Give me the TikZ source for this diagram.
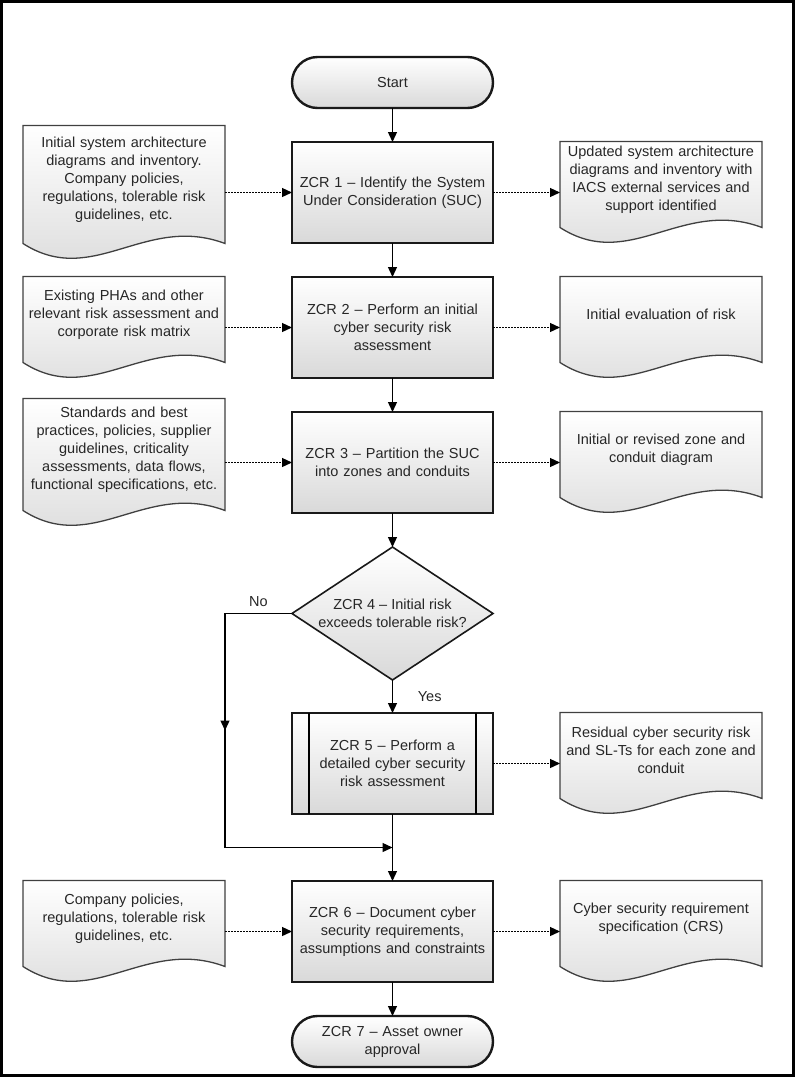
\documentclass[tikz,border=0pt]{standalone}
\usepackage{fontspec}
\setmainfont{Liberation Sans}
\usetikzlibrary{positioning,shapes.geometric,arrows.meta,backgrounds,calc}

\begin{document}
\begin{tikzpicture}
[
x=1pt, y=1pt,
node distance=34pt and 67pt,
>={Triangle[length=10pt,width=9pt]},
every node/.style={font=\fontsize{14.5}{18}\selectfont, text=black!85, outer sep=0pt},
fadefill/.style={top color=white, bottom color=black!15},
stepbox/.style={rectangle, draw=black!90, line width=2.4pt, fadefill, minimum width=201pt, minimum height=101pt, inner sep=3pt, text width=194pt, align=center},
endbox/.style={stepbox, rounded corners=25.5pt, minimum height=51pt},
decision/.style={diamond, draw=black!90, line width=1.6pt, fadefill, minimum width=201pt, minimum height=133pt, aspect=1.5, inner sep=0pt, align=center},
doc/.style={rectangle, minimum width=202pt, minimum height=86pt, inner sep=3pt, text width=196pt, align=center, yshift=8pt, execute at end node={\vspace{10pt}}},
docline/.style={line width=1.3pt, draw=black!75, fadefill},
flow/.style={->, line width=1.3pt},
info/.style={->, line width=1.3pt, dash pattern=on 1.5pt off 1.5pt}
]

\useasboundingbox (0,0) rectangle (795,-1077);
\draw[line width=3pt] (1.5,-1.5) rectangle (793.5,-1075.5);

\node[endbox] (start) at (392.5,-82.5) {Start};
\node[stepbox, below=of start] (zcr1) {ZCR 1 – Identify the System\\Under Consideration (SUC)};
\node[stepbox, below=of zcr1] (zcr2) {ZCR 2 – Perform an initial\\cyber security risk\\assessment};
\node[stepbox, below=of zcr2] (zcr3) {ZCR 3 – Partition the SUC\\into zones and conduits};
\node[decision, below=of zcr3] (zcr4) {ZCR 4 – Initial risk\\exceeds tolerable risk?};
\node[stepbox, below=33pt of zcr4] (zcr5) {ZCR 5 – Perform a\\detailed cyber security\\risk assessment};
\node[stepbox, below=67pt of zcr5] (zcr6) {ZCR 6 – Document cyber\\security requirements,\\assumptions and constraints};
\node[endbox, below=of zcr6] (zcr7) {ZCR 7 – Asset owner\\approval};

\draw[line width=1.8pt] ([xshift=17pt]zcr5.north west) -- ([xshift=17pt]zcr5.south west);
\draw[line width=1.8pt] ([xshift=-17pt]zcr5.north east) -- ([xshift=-17pt]zcr5.south east);

\node[doc, left=of zcr1, minimum height=118pt] (in1) {Initial system architecture\\diagrams and inventory.\\Company policies,\\regulations, tolerable risk\\guidelines, etc.};
\node[doc, right=of zcr1] (out1) {Updated system architecture\\diagrams and inventory with\\IACS external services and\\support identified};
\node[doc, left=of zcr2] (in2) {Existing PHAs and other\\relevant risk assessment and\\corporate risk matrix};
\node[doc, right=of zcr2] (out2) {Initial evaluation of risk};
\node[doc, left=of zcr3, minimum height=112pt] (in3) {Standards and best\\practices, policies, supplier\\guidelines, criticality\\assessments, data flows,\\functional specifications, etc.};
\node[doc, right=of zcr3] (out3) {Initial or revised zone and\\conduit diagram};
\node[doc, right=of zcr5] (out5) {Residual cyber security risk\\and SL-Ts for each zone and\\conduit};
\node[doc, left=of zcr6] (in6) {Company policies,\\regulations, tolerable risk\\guidelines, etc.};
\node[doc, right=of zcr6] (out6) {Cyber security requirement\\specification (CRS)};

\begin{scope}[on background layer]
\foreach \d in {in1,out1,in2,out2,in3,out3,out5,in6,out6}
  \draw[docline] (\d.south west) -- (\d.north west) -- (\d.north east) -- (\d.south east)
    .. controls +(-80,30) and +(70,-45) .. (\d.south west) -- cycle;
\end{scope}

\draw[flow] (start) -- (zcr1);
\draw[flow] (zcr1) -- (zcr2);
\draw[flow] (zcr2) -- (zcr3);
\draw[flow] (zcr3) -- (zcr4);
\draw[flow] (zcr4) -- node[right=22pt] (yes) {Yes} (zcr5);
\draw[flow] (zcr5) -- (zcr6);
\draw[flow] (zcr6) -- (zcr7);

\coordinate (nobend) at ([xshift=-67pt]zcr4.west);
\coordinate (merge) at ($(zcr5.south)!0.5!(zcr6.north)$);
\coordinate (nomid) at ($(nobend)!0.5!(nobend |- merge)$);
\draw[flow] (zcr4.west) -- node[above=4pt] (no) {No} (nobend) |- (merge);
\draw[flow] (nobend) -- (nomid);

\draw[info] (zcr1.west -| in1.east) -- (zcr1.west);
\draw[info] (zcr1.east) -- (zcr1.east -| out1.west);
\draw[info] (zcr2.west -| in2.east) -- (zcr2.west);
\draw[info] (zcr2.east) -- (zcr2.east -| out2.west);
\draw[info] (zcr3.west -| in3.east) -- (zcr3.west);
\draw[info] (zcr3.east) -- (zcr3.east -| out3.west);
\draw[info] (zcr5.east) -- (zcr5.east -| out5.west);
\draw[info] (zcr6.west -| in6.east) -- (zcr6.west);
\draw[info] (zcr6.east) -- (zcr6.east -| out6.west);
\end{tikzpicture}
\end{document}
